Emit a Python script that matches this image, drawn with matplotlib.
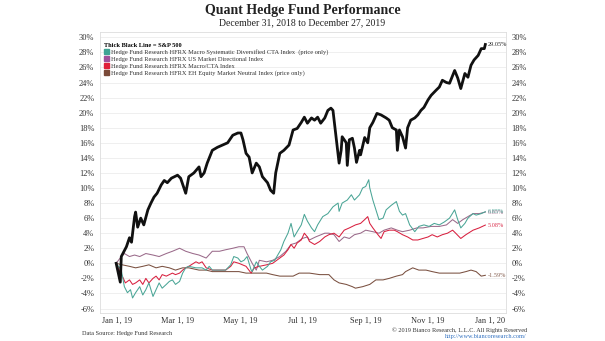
import pandas as pd
import matplotlib
matplotlib.use('Agg')
import matplotlib.pyplot as plt
from matplotlib.patches import Patch

plt.rcParams['font.family'] = ['Liberation Serif', 'DejaVu Serif']

start = pd.Timestamp('2018-12-31')

# S&P 500 (days since Dec 31 2018, % change)
spx_days = [0, 4, 5, 10, 13, 15, 18, 19, 21, 24, 27, 31, 34, 37, 40, 44, 47, 50, 54, 57, 60, 63,
            68, 71, 76, 81, 83, 86, 89, 94, 99, 104, 109, 114, 119, 122, 124, 127, 130, 133, 137,
            140, 143, 148, 151, 154, 156, 160, 164, 169, 173, 177, 181, 184, 187, 191, 194, 197,
            200, 204, 207, 210, 212, 215, 218, 220, 221, 225, 226, 228, 231, 233, 235, 238, 239,
            243, 246, 248, 251, 255, 259, 264, 267, 270, 274, 275, 277, 280, 283, 285, 288, 292,
            295, 298, 301, 305, 308, 313, 316, 319, 323, 326, 331, 334, 337, 341, 344, 347, 350,
            354, 357, 360, 361]
spx_vals = [0.0, -2.5, 0.9, 2.2, 3.4, 2.8, 6.2, 6.8, 4.8, 6.0, 5.1, 7.1, 8.0, 8.8, 9.3, 10.4, 11.0,
            10.7, 11.3, 11.5, 11.7, 11.3, 9.3, 11.5, 12.0, 12.8, 11.5, 12.0, 13.3, 15.0, 15.4, 15.7,
            16.0, 17.0, 17.3, 17.3, 16.4, 14.6, 14.1, 12.0, 13.3, 12.8, 11.5, 10.7, 9.7, 9.3, 12.0,
            14.6, 15.0, 15.7, 17.7, 17.9, 18.7, 19.4, 18.6, 19.3, 19.0, 19.4, 18.6, 19.3, 20.3,
            20.6, 20.3, 16.8, 13.3, 15.0, 16.8, 16.0, 13.0, 16.4, 16.6, 15.3, 13.4, 15.0, 14.4,
            16.7, 16.0, 18.0, 18.7, 19.9, 19.7, 19.3, 19.0, 18.0, 17.7, 15.0, 17.7, 16.8, 15.3,
            18.0, 19.0, 19.3, 19.7, 20.3, 20.7, 21.7, 22.3, 23.0, 23.4, 24.3, 24.0, 23.9, 25.6,
            24.6, 23.2, 25.2, 24.7, 26.3, 27.0, 27.6, 28.5, 28.5, 29.05]

# HFRX Macro Systematic Diversified CTA Index
cta_days = [0, 5, 8, 11, 14, 16, 19, 23, 26, 29, 32, 36, 39, 42, 45, 49, 52, 55, 58, 62, 65, 68,
            71, 78, 84, 88, 91, 94, 101, 107, 112, 115, 119, 122, 125, 128, 132, 133, 137, 140,
            143, 148, 151, 155, 158, 161, 164, 168, 171, 174, 177, 181, 184, 187, 191, 194, 197,
            202, 207, 212, 217, 218, 221, 226, 230, 233, 238, 241, 244, 247, 248, 251, 254, 257,
            261, 264, 269, 274, 277, 280, 283, 287, 292, 296, 301, 306, 311, 316, 321, 326, 331,
            334, 337, 341, 344, 349, 352, 357, 361]
cta_vals = [0.0, -0.9, -3.1, -3.9, -3.5, -4.6, -3.9, -3.1, -4.2, -3.5, -2.6, -4.4, -3.5, -2.6,
            -3.3, -2.8, -2.4, -2.2, -2.8, -2.4, -1.3, -0.6, -0.4, -0.6, -0.6, -0.9, -0.4, -0.9,
            -0.9, -0.9, -0.2, 0.9, 0.7, 0.2, 0.4, 0.9, -0.9, -1.1, 0.2, -0.4, -0.9, -0.4, 0.2,
            0.4, 1.1, 1.8, 2.9, 4.0, 5.3, 3.5, 4.2, 5.1, 6.5, 5.6, 4.7, 4.2, 5.1, 6.2, 6.6, 7.5,
            8.0, 6.9, 8.0, 8.4, 9.1, 8.4, 9.1, 10.0, 10.2, 11.1, 10.0, 8.4, 7.1, 5.8, 6.0, 7.1,
            7.7, 8.2, 6.9, 6.4, 6.6, 5.1, 4.2, 4.9, 5.1, 4.9, 5.3, 5.1, 5.5, 6.0, 7.1, 5.8, 4.7,
            5.3, 6.0, 6.6, 6.4, 6.6, 6.85]

# HFRX US Market Directional Index
mdi_days = [0, 5, 8, 13, 18, 23, 29, 36, 42, 49, 55, 62, 68, 75, 81, 88, 94, 101, 107, 114, 120,
            125, 128, 133, 137, 140, 147, 153, 160, 166, 171, 176, 182, 187, 189, 195, 204, 208,
            213, 218, 223, 228, 233, 239, 244, 251, 257, 262, 269, 275, 280, 287, 294, 300, 308,
            316, 323, 329, 334, 339, 344, 349, 355, 361]
mdi_vals = [0.0, 0.9, 1.3, 0.9, 1.1, 0.9, 1.3, 1.1, 0.9, 1.3, 1.6, 2.0, 1.6, 1.3, 1.1, 0.7, 1.6,
            1.6, 1.8, 2.0, 2.2, 2.2, 1.3, 0.0, -0.9, 0.4, 0.2, 0.4, 0.9, 1.6, 2.5, 2.7, 3.3, 3.5,
            3.1, 3.5, 4.0, 4.0, 3.8, 2.9, 3.5, 3.3, 3.8, 4.0, 4.4, 4.2, 4.0, 4.4, 4.7, 4.4, 4.2,
            4.4, 4.7, 4.7, 4.9, 4.9, 5.1, 5.8, 5.3, 5.8, 6.2, 6.6, 6.6, 6.8]

# HFRX Macro/CTA Index
mac_days = [0, 6, 9, 13, 16, 19, 23, 26, 29, 32, 36, 39, 42, 45, 49, 52, 55, 58, 62, 65, 68, 71,
            78, 81, 84, 88, 94, 101, 107, 112, 115, 120, 127, 132, 135, 140, 147, 153, 160, 164,
            168, 171, 174, 177, 181, 184, 187, 189, 194, 199, 204, 208, 213, 218, 223, 228, 234,
            239, 243, 246, 248, 251, 256, 259, 262, 267, 272, 275, 280, 285, 290, 295, 300, 305,
            309, 314, 319, 324, 329, 332, 337, 342, 349, 355, 361]
mac_vals = [0.0, -1.7, -2.6, -2.2, -2.8, -2.6, -2.2, -2.8, -2.0, -2.6, -2.0, -1.7, -2.2, -1.5,
            -1.7, -1.5, -1.3, -1.5, -1.3, -0.9, -0.6, -0.4, 0.2, 0.0, 0.2, -0.6, -0.9, -0.9, -0.9,
            -0.4, 0.2, 0.0, -0.4, -1.3, -0.6, -0.4, -0.2, 0.0, 0.7, 1.1, 1.8, 2.5, 2.0, 2.7, 3.1,
            4.0, 3.5, 2.9, 2.5, 2.9, 3.5, 3.8, 4.0, 3.5, 4.4, 4.7, 5.1, 5.3, 5.8, 6.2, 5.3, 4.7,
            3.8, 3.3, 4.2, 4.4, 4.4, 4.2, 3.8, 3.5, 3.1, 3.1, 3.3, 3.5, 3.8, 3.5, 3.8, 4.0, 4.4,
            4.0, 3.3, 3.8, 4.4, 4.7, 5.08]

# HFRX EH Equity Market Neutral Index
emn_days = [0, 6, 13, 19, 26, 32, 39, 45, 52, 58, 65, 71, 81, 88, 94, 107, 120, 127, 133, 147,
            153, 160, 166, 173, 179, 189, 199, 208, 213, 218, 225, 231, 234, 241, 248, 254, 261,
            267, 274, 280, 283, 290, 296, 303, 309, 316, 323, 329, 336, 342, 347, 352, 357, 361]
emn_vals = [0.0, -0.2, -0.4, -0.6, -0.4, -0.2, -0.6, -0.4, -0.6, -0.9, -0.6, -0.6, -0.9, -0.9,
            -1.1, -1.1, -1.1, -1.3, -1.3, -1.3, -1.5, -1.7, -1.7, -1.7, -1.3, -1.3, -1.5, -1.5,
            -2.2, -2.6, -2.8, -3.1, -3.3, -3.1, -2.8, -2.2, -2.2, -2.0, -1.7, -1.5, -1.1, -0.6,
            -0.9, -0.9, -1.1, -1.3, -1.3, -1.3, -1.3, -1.1, -0.9, -1.1, -1.7, -1.59]

series = [
    (spx_days, spx_vals, '#111111', 2.0, '29.05%'),
    (emn_days, emn_vals, '#7a5040', 0.75, '-1.59%'),
    (mdi_days, mdi_vals, '#9a6a8a', 0.75, '6.85%'),
    (mac_days, mac_vals, '#d8203f', 0.75, '5.08%'),
    (cta_days, cta_vals, '#4aa596', 0.75, '6.85%'),
]

fig = plt.figure(figsize=(6.05, 3.41), dpi=100)
ax = fig.add_axes([0.165, 0.082, 0.671, 0.824])

for days, vals, col, lw, lab in series:
    dates = start + pd.to_timedelta(days, unit='D')
    ax.plot(dates, vals, color=col, lw=lw, zorder=3 if lw > 1 else 2)
    ax.text(dates[-1] + pd.Timedelta(days=2), vals[-1], lab, color=col, fontsize=4.5,
            va='center', ha='left', alpha=0.9)

ax.set_ylim(-6.6, 30.7)
ax.set_xlim(pd.Timestamp('2018-12-15'), pd.Timestamp('2020-01-16'))
yt = list(range(-6, 31, 2))
ax.set_yticks(yt)
ax.set_yticklabels([f'{v}%' for v in yt])
ax.tick_params(axis='y', labelsize=6, length=0, pad=4, labelright=True, labelleft=True,
               colors='#333333')
ax.grid(axis='y', color='#ececec', lw=0.6)
ax.set_axisbelow(True)

xt = pd.to_datetime(['2019-01-01', '2019-03-01', '2019-05-01', '2019-07-01',
                     '2019-09-01', '2019-11-01', '2020-01-01'])
ax.set_xticks(xt)
ax.set_xticklabels(['Jan 1, 19', 'Mar 1, 19', 'May 1, 19', 'Jul 1, 19',
                    'Sep 1, 19', 'Nov 1, 19', 'Jan 1, 20'])
ax.tick_params(axis='x', labelsize=6, length=0, pad=3, colors='#333333')
for s in ax.spines.values():
    s.set_color('#dddddd')
    s.set_linewidth(0.6)

handles = [Patch(color='#3fa494'), Patch(color='#a0509a'), Patch(color='#e0203a'),
           Patch(color='#7a4a38')]
labels = ['Hedge Fund Research HFRX Macro Systematic Diversified CTA Index  (price only)',
          'Hedge Fund Research HFRX US Market Directional Index',
          'Hedge Fund Research HFRX Macro/CTA Index',
          'Hedge Fund Research HFRX EH Equity Market Neutral Index (price only)']
leg = ax.legend(handles, labels, loc='upper left', bbox_to_anchor=(0.0, 0.975), fontsize=4.6,
                frameon=False, handlelength=0.8, handleheight=0.8, handletextpad=0.4,
                labelspacing=0.2, borderaxespad=0.2, title='Thick Black Line = S&P 500',
                title_fontsize=4.6, alignment='left')
leg.get_title().set_fontweight('bold')
for t in leg.get_texts():
    t.set_color('#333333')

fig.text(0.5, 0.968, 'Quant Hedge Fund Performance', ha='center', va='center',
         fontsize=10, fontweight='bold', color='#222222')
fig.text(0.5, 0.932, 'December 31, 2018 to December 27, 2019', ha='center', va='center',
         fontsize=7, color='#222222')
fig.text(0.136, 0.023, 'Data Source: Hedge Fund Research', fontsize=4.5, color='#333333',
         va='center')
fig.text(0.871, 0.032, '\u00a9 2019 Bianco Research, L.L.C. All Rights Reserved', fontsize=4.5,
         color='#333333', ha='right', va='center')
fig.text(0.871, 0.013, 'http://www.biancoresearch.com/', fontsize=4.5, color='#3070c0',
         ha='right', va='center')

fig.savefig('out.png', dpi=100)
